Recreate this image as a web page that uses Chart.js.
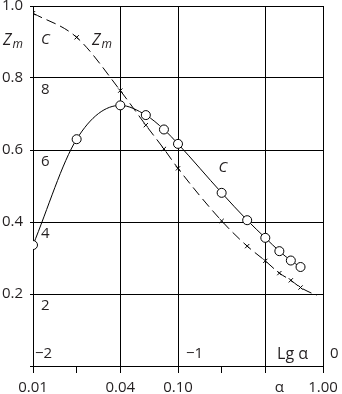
<!DOCTYPE html>
<html><head><meta charset="utf-8">
<script src="https://cdn.jsdelivr.net/npm/chart.js@4/dist/chart.umd.min.js"></script>
<style>html,body{margin:0;padding:0;background:#fff}#wrap{width:342px;height:394px}</style>
</head><body><div id="wrap"><canvas id="c" width="342" height="394"></canvas></div>
<script>
const alphaC = [0.01,0.02,0.04,0.06,0.08,0.1,0.2,0.3,0.4,0.5,0.6,0.7];
const cValues = [0.336,0.630,0.724,0.697,0.657,0.617,0.481,0.405,0.356,0.319,0.293,0.275];
const alphaZ = [0.01,0.02,0.04,0.06,0.08,0.1,0.2,0.3,0.4,0.5,0.6,0.7,0.9];
const zValues = [0.98,0.913,0.765,0.669,0.603,0.549,0.403,0.333,0.292,0.258,0.238,0.218,0.196];
const alphaTicks = [0.01,0.02,0.04,0.1,0.2,0.4,0.5,1];
const alphaGrid = [0.01,0.04,0.1,0.4,1];
const alphaMarks = [0.01,0.02,0.04,0.1,0.2,0.4,1];
const alphaLabels = {0.01:'0.01',0.04:'0.04',0.1:'0.10',0.5:'α',1:'1.00'};
const zTicks = [0,0.2,0.4,0.6,0.8,1.0];
const cScaleLabels = [2,4,6,8];

const TXT = '#231f20';
const FONT = '"Open Sans", "Noto Sans", sans-serif';

const textPlugin = {
  id:'texts',
  afterDraw(chart){
    const {ctx, scales:{x,y}} = chart;
    ctx.save();
    ctx.fillStyle = TXT;
    ctx.textBaseline = 'middle';
    ctx.font = '15px ' + FONT;
    ctx.textAlign = 'left';
    cScaleLabels.forEach(c => ctx.fillText(String(c), x.left + 8, y.getPixelForValue(c/10) + 12));
    const yb = y.bottom - 12;
    ctx.fillText('−2', x.getPixelForValue(0.01) + 2, yb);
    ctx.fillText('−1', x.getPixelForValue(0.1) + 8, yb);
    ctx.fillText('0', x.getPixelForValue(1) + 7, yb);
    ctx.font = '16px ' + FONT;
    ctx.textAlign = 'right';
    ctx.fillText('Lg α', x.right - 15, yb);
    // italic labels
    ctx.textAlign = 'left';
    ctx.font = 'italic 15px ' + FONT;
    ctx.fillText('C', x.left + 8, y.getPixelForValue(0.905));
    ctx.fillText('C', x.getPixelForValue(0.19), y.getPixelForValue(0.55));
    const zm = (px, py) => {
      ctx.font = 'italic 16px ' + FONT;
      ctx.fillText('Z', px, py);
      const w = ctx.measureText('Z').width;
      ctx.font = 'italic 12px ' + FONT;
      ctx.fillText('m', px + w + 1, py + 4);
    };
    zm(3, y.getPixelForValue(0.905));
    zm(x.getPixelForValue(0.0255), y.getPixelForValue(0.905));
    ctx.restore();
  }
};

new Chart(document.getElementById('c'), {
  type:'line',
  data:{
    datasets:[
      {
        label:'C',
        data: alphaC.map((a,i)=>({x:a,y:cValues[i]})),
        borderColor:'#000', borderWidth:1,
        pointStyle:'circle', pointRadius:4.5, pointBackgroundColor:'#fff', pointBorderColor:'#000', pointBorderWidth:1,
        cubicInterpolationMode:'monotone', fill:false
      },
      {
        label:'Zm',
        data: alphaZ.map((a,i)=>({x:a,y:zValues[i]})),
        borderColor:'#000', borderWidth:1, borderDash:[10,5],
        pointStyle:'crossRot', pointRadius: alphaZ.map((a,i)=> i===alphaZ.length-1 ? 0 : 3),
        pointBorderColor:'#000', pointBorderWidth:1,
        cubicInterpolationMode:'monotone', fill:false
      }
    ]
  },
  options:{
    responsive:false, animation:false, devicePixelRatio:1,
    layout:{padding:{top:6,right:19,left:0,bottom:0}},
    plugins:{legend:{display:false}, tooltip:{enabled:false}},
    scales:{
      x:{
        type:'logarithmic', min:0.01, max:1,
        afterBuildTicks(s){ s.ticks = alphaTicks.map(v=>({value:v})); },
        afterFit(s){ s.height = 28; s.paddingLeft = 0; s.paddingRight = 0; },
        border:{display:true, color:'#000', width:1},
        grid:{
          color: c => (c.tick && alphaGrid.includes(c.tick.value)) ? '#000' : 'rgba(0,0,0,0)',
          tickColor: c => (c.tick && alphaMarks.includes(c.tick.value)) ? '#000' : 'rgba(0,0,0,0)',
          lineWidth:1, drawTicks:true, tickLength:7
        },
        ticks:{
          autoSkip:false, maxRotation:0, color:TXT, padding:6,
          font:{family:FONT, size:15},
          callback: v => alphaLabels[v] !== undefined ? alphaLabels[v] : ''
        }
      },
      y:{
        type:'linear', min:0, max:1,
        afterBuildTicks(s){ s.ticks = zTicks.map(v=>({value:v})); },
        afterFit(s){ s.width = 33; s.paddingTop = 0; s.paddingBottom = 0; },
        border:{display:true, color:'#000', width:1},
        grid:{color:'#000', lineWidth:1, drawTicks:true, tickLength:3, tickColor:'#000'},
        ticks:{
          color:TXT, padding:7, font:{family:FONT, size:15},
          callback: v => v === 0 ? '' : v.toFixed(1)
        }
      }
    }
  },
  plugins:[textPlugin]
});
</script></body></html>
